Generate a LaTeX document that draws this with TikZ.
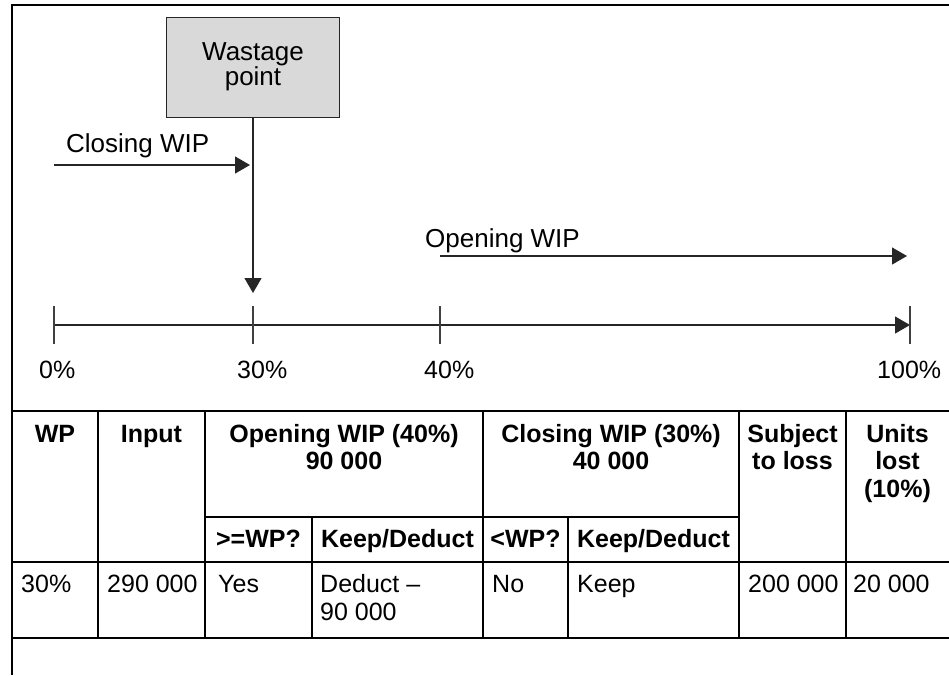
\documentclass[tikz,border=0pt]{standalone}
\usepackage{fontspec}
\setmainfont{Liberation Sans}
\usetikzlibrary{arrows.meta}
\begin{document}
\begin{tikzpicture}[x=1pt,y=-1pt,
  lbl/.style={inner sep=0pt, anchor=base west, font=\fontsize{26}{28}\selectfont},
  tick/.style={inner sep=0pt, anchor=base west, font=\fontsize{25}{28}\selectfont},
  hd/.style={inner sep=0pt, anchor=base, align=center, font=\fontsize{25}{27.5}\selectfont\bfseries},
  cell/.style={inner sep=0pt, anchor=base west, align=left, font=\fontsize{25}{28}\selectfont},
  arr/.style={draw=black!85, line width=1.2pt, -{Triangle[width=17pt,length=15pt]}},
  axis/.style={draw=black!75, line width=1.2pt},
  grid/.style={draw=black, line width=2pt},
  frame/.style={draw=black, line width=1.6pt},
  wpbox/.style={draw=black!85, line width=1pt, fill=black!15, minimum width=173pt, minimum height=100pt, inner sep=0pt, align=center, font=\fontsize{26}{23.5}\selectfont}
]
\useasboundingbox (0,0) rectangle (949,675);
% outer frame
\draw[frame] (949,5) -- (12,5) -- (12,675);
% wastage point box
\node[wpbox] (wp) at (253,67) {Wastage\\point};
% timeline
\coordinate (t0) at (54,325);
\coordinate (t30) at (253,325);
\coordinate (t40) at (440,325);
\coordinate (t100) at (910,325);
\draw[arr] (t0) -- (t100);
\foreach \t in {t0,t30,t40,t100}{
  \draw[axis] ([yshift=19pt]\t) -- ([yshift=-19pt]\t);
}
\node[tick] (l0) at (39,378) {0\%};
\node[tick] (l30) at (237,378) {30\%};
\node[tick] (l40) at (424,378) {40\%};
\node[tick] (l100) at (877,378) {100\%};
% wastage arrow
\coordinate (wtip) at (253,293);
\draw[arr] (wp.south) -- (wtip);
% closing WIP
\coordinate (cs) at (54,165);
\coordinate (ce) at (250,165);
\draw[arr] (cs) -- (ce);
\node[lbl] (cl) at (66,152) {Closing WIP};
% opening WIP
\coordinate (os) at (440,256);
\coordinate (oe) at (907,256);
\draw[arr] (os) -- (oe);
\node[lbl] (ol) at (425,247) {Opening WIP};
% table lines
\draw[grid] (12,411) -- (949,411);
\draw[grid] (205,517) -- (739,517);
\draw[grid] (12,562) -- (949,562);
\draw[grid] (12,638) -- (949,638);
\foreach \x in {12,98,205,483,739,846}{
  \draw[grid] (\x,411) -- (\x,638);
}
\foreach \x in {312,568}{
  \draw[grid] (\x,517) -- (\x,638);
}
% headers (base anchor = last line's baseline)
\node[hd] (h1) at (55,442) {WP};
\node[hd] (h2) at (151.5,442) {Input};
\node[hd] (h3) at (344,469.5) {Opening WIP (40\%)\\90 000};
\node[hd] (h4) at (611,469.5) {Closing WIP (30\%)\\40 000};
\node[hd] (h5) at (792.5,469.5) {Subject\\to loss};
\node[hd] (h6) at (897.5,497) {Units\\lost\\(10\%)};
\node[hd] (s1) at (258.5,547) {>=WP?};
\node[hd] (s2) at (397.5,547) {Keep/Deduct};
\node[hd] (s3) at (525.5,547) {<WP?};
\node[hd] (s4) at (653.5,547) {Keep/Deduct};
% body
\node[cell] (b1) at (21,592) {30\%};
\node[cell] (b2) at (107,592) {290 000};
\node[cell] (b3) at (218,592) {Yes};
\node[cell] (b4) at (320,620) {Deduct –\\90 000};
\node[cell] (b5) at (492,592) {No};
\node[cell] (b6) at (577,592) {Keep};
\node[cell] (b7) at (748,592) {200 000};
\node[cell] (b8) at (853,592) {20 000};
\end{tikzpicture}
\end{document}
